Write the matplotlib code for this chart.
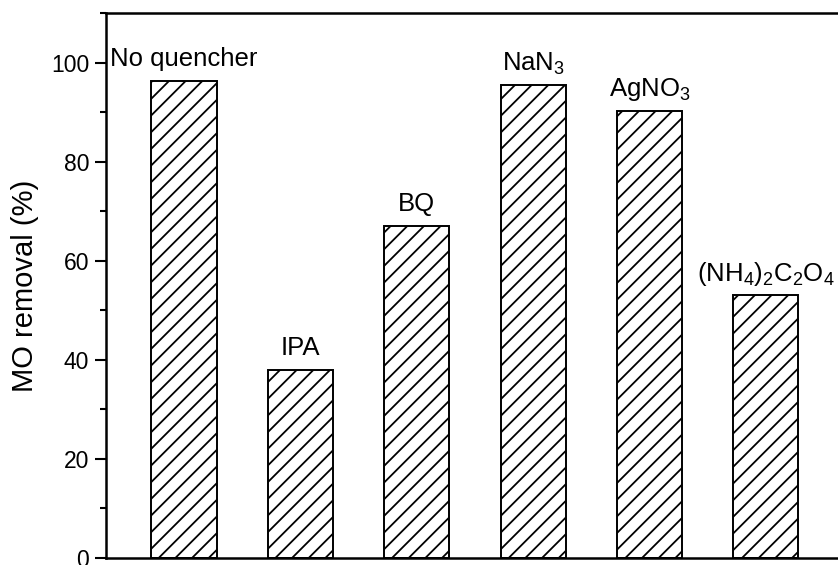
import matplotlib
matplotlib.use("Agg")
import matplotlib.pyplot as plt
from matplotlib.ticker import MultipleLocator

plt.rcParams['font.family'] = ['Liberation Sans', 'DejaVu Sans']
plt.rcParams['mathtext.fontset'] = 'custom'
plt.rcParams['mathtext.rm'] = 'Liberation Sans'
plt.rcParams['mathtext.it'] = 'Liberation Sans'
plt.rcParams['hatch.linewidth'] = 1.3

# data
labels = ['No quencher', 'IPA', 'BQ', 'NaN$_3$', 'AgNO$_3$',
          '(NH$_4$)$_2$C$_2$O$_4$']
removal = [96.3, 38.0, 67.1, 95.4, 90.3, 53.0]
positions = [1, 2, 3, 4, 5, 6]

fig = plt.figure(figsize=(8.38, 5.65), dpi=100)
ax = fig.add_axes([0.1265, 0.0124, 0.8735, 0.9646])

bars = ax.bar(positions, removal, width=0.56, color='white',
              edgecolor='black', linewidth=1.4, hatch='//')

for x, v, lab in zip(positions, removal, labels):
    ax.annotate(lab, (x, v), xytext=(0, 10.5), textcoords='offset points',
                ha='center', va='baseline', fontsize=18.5)

ax.set_xlim(0.33, 6.62)
ax.set_ylim(0, 110)
ax.set_xticks([])
ax.yaxis.set_major_locator(MultipleLocator(20))
ax.yaxis.set_minor_locator(MultipleLocator(10))
ax.tick_params(axis='y', which='major', direction='out', length=8,
               width=1.5, labelsize=16.5, pad=4)
ax.tick_params(axis='y', which='minor', direction='out', length=4.5,
               width=1.5)
ax.set_ylabel('MO removal (%)', fontsize=21, labelpad=9)

ax.spines['right'].set_visible(False)
for s in ['left', 'top', 'bottom']:
    ax.spines[s].set_linewidth(1.8)

fig.savefig('out.png', dpi=100)
